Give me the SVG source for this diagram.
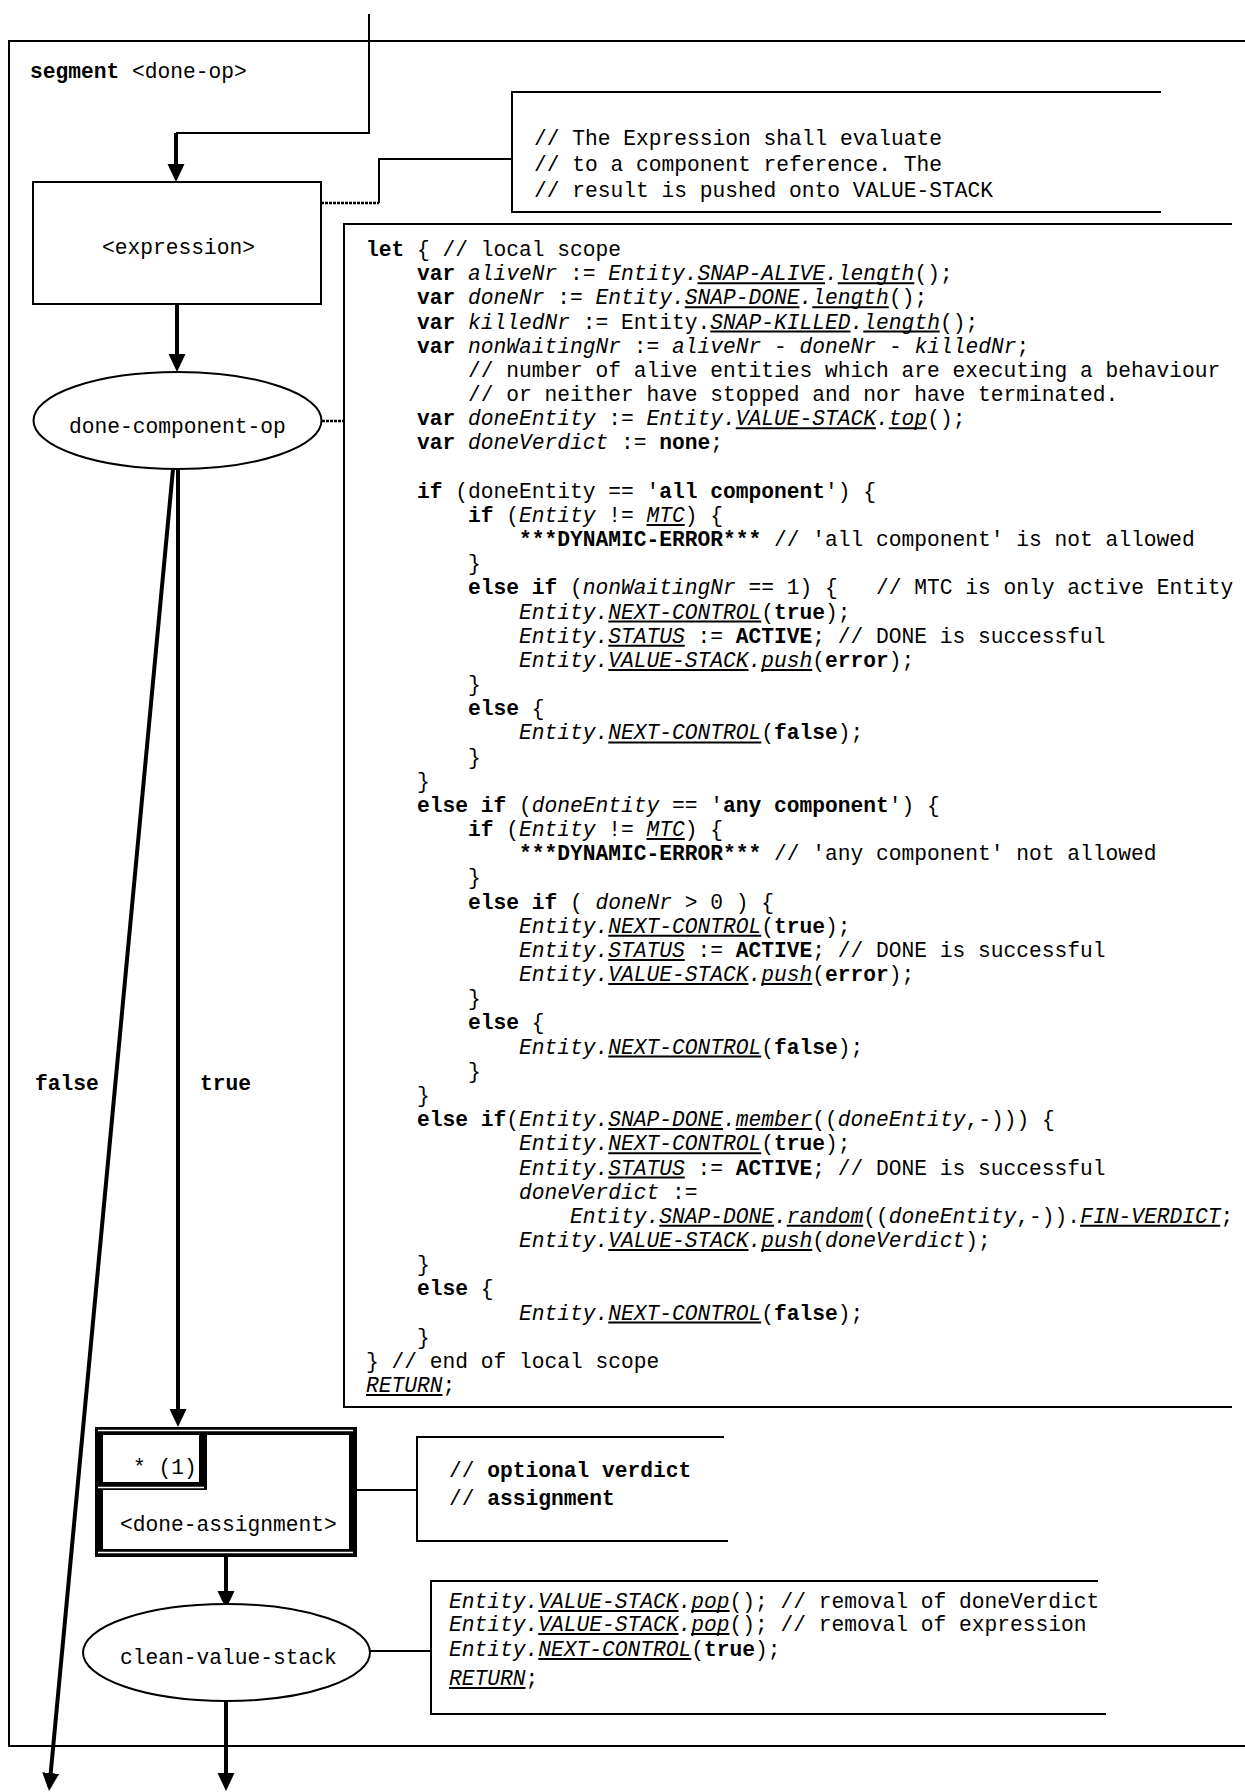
<svg xmlns="http://www.w3.org/2000/svg" width="1245" height="1792" viewBox="0 0 1245 1792">
<style>
.t{font-family:"Liberation Mono","Courier New",monospace;font-size:21.25px;fill:#000;white-space:pre}
.b{font-weight:bold}
.i{font-style:italic}
.ln{stroke:#000;stroke-width:2;fill:none}
.nd{stroke:#000;stroke-width:2;fill:#fff}
.ul{stroke:#000;stroke-width:2}
.ar{stroke:#000;stroke-width:4;fill:none;marker-end:url(#ah)}
.dot{stroke:#000;stroke-width:2.5;fill:none;stroke-dasharray:3 1}
</style>
<defs>
<marker id="ah" markerUnits="userSpaceOnUse" markerWidth="18" markerHeight="18" refX="14" refY="8.5" orient="auto">
<path d="M0,0 L18,8.5 L0,17 z" fill="#000"/>
</marker>
</defs>
<rect width="1245" height="1792" fill="#fff"/>

<g id="frame">
<path class="ln" d="M1245,41 H9 V1746 H1245"/>
<text class="t" x="30" y="78"><tspan class="b">segment</tspan> &lt;done-op&gt;</text>
</g>

<g id="connectors">
<path class="ln" d="M369,14 V133 H176"/>
<path class="ar" d="M176,133 V178"/>
<path class="ar" d="M177,304 V368"/>
<path class="ar" d="M178,469 V1423"/>
<path class="ar" d="M173,469 L49.4,1787"/>
<path class="ar" d="M226,1557 V1605"/>
<path class="ar" d="M226,1701 V1787"/>
<path class="dot" d="M321,203 H379"/>
<path class="ln" d="M379,203 V159 H512"/>
<path class="dot" d="M322,421 H344"/>
<path class="ln" d="M357,1490 H417"/>
<path class="ln" d="M370,1651 H431"/>
<text class="t b" x="35" y="1090">false</text>
<text class="t b" x="200" y="1090">true</text>
</g>

<g id="expression">
<rect class="nd" x="33" y="182" width="288" height="122"/>
<text class="t" x="102" y="254">&lt;expression&gt;</text>
</g>

<g id="done-component-op">
<ellipse class="nd" cx="177.5" cy="420.5" rx="144" ry="48.5"/>
<text class="t" x="69" y="433">done-component-op</text>
</g>

<g id="comment-expression">
<path class="ln" d="M1161,92 H512 V212 H1161"/>
<text class="t" x="534" y="145">// The Expression shall evaluate</text>
<text class="t" x="534" y="171">// to a component reference. The</text>
<text class="t" x="534" y="197">// result is pushed onto VALUE-STACK</text>
</g>

<g id="let-block">
<path class="ln" d="M1232,224 H344 V1407 H1232"/>
<text class="t" x="366" y="256"><tspan class="b">let</tspan> { // local scope</text>
<text class="t" x="417" y="280.2"><tspan class="b">var</tspan> <tspan class="i">aliveNr</tspan> := <tspan class="i">Entity.SNAP-ALIVE.length</tspan>();</text>
<text class="t" x="417" y="304.3"><tspan class="b">var</tspan> <tspan class="i">doneNr</tspan> := <tspan class="i">Entity.SNAP-DONE.length</tspan>();</text>
<text class="t" x="417" y="328.5"><tspan class="b">var</tspan> <tspan class="i">killedNr</tspan> := Entity.<tspan class="i">SNAP-KILLED.length</tspan>();</text>
<text class="t" x="417" y="352.7"><tspan class="b">var</tspan> <tspan class="i">nonWaitingNr</tspan> := <tspan class="i">aliveNr</tspan> - <tspan class="i">doneNr</tspan> - <tspan class="i">killedNr</tspan>;</text>
<text class="t" x="468" y="376.9">// number of alive entities which are executing a behaviour</text>
<text class="t" x="468" y="401">// or neither have stopped and nor have terminated.</text>
<text class="t" x="417" y="425.2"><tspan class="b">var</tspan> <tspan class="i">doneEntity</tspan> := <tspan class="i">Entity.VALUE-STACK.top</tspan>();</text>
<text class="t" x="417" y="449.4"><tspan class="b">var</tspan> <tspan class="i">doneVerdict</tspan> := <tspan class="b">none</tspan>;</text>
<text class="t" x="417" y="497.7"><tspan class="b">if</tspan> (doneEntity == '<tspan class="b">all component</tspan>') {</text>
<text class="t" x="468" y="521.9"><tspan class="b">if</tspan> (<tspan class="i">Entity</tspan> != <tspan class="i">MTC</tspan>) {</text>
<text class="t" x="519" y="546"><tspan class="b">***DYNAMIC-ERROR***</tspan> // 'all component' is not allowed</text>
<text class="t" x="468" y="570.2">}</text>
<text class="t" x="468" y="594.4"><tspan class="b">else if</tspan> (<tspan class="i">nonWaitingNr</tspan> == 1) {   // MTC is only active Entity</text>
<text class="t" x="519" y="618.6"><tspan class="i">Entity.NEXT-CONTROL</tspan>(<tspan class="b">true</tspan>);</text>
<text class="t" x="519" y="642.7"><tspan class="i">Entity.STATUS</tspan> := <tspan class="b">ACTIVE</tspan>; // DONE is successful</text>
<text class="t" x="519" y="666.9"><tspan class="i">Entity.VALUE-STACK.push</tspan>(<tspan class="b">error</tspan>);</text>
<text class="t" x="468" y="691.1">}</text>
<text class="t" x="468" y="715.2"><tspan class="b">else</tspan> {</text>
<text class="t" x="519" y="739.4"><tspan class="i">Entity.NEXT-CONTROL</tspan>(<tspan class="b">false</tspan>);</text>
<text class="t" x="468" y="763.6">}</text>
<text class="t" x="417" y="787.7">}</text>
<text class="t" x="417" y="811.9"><tspan class="b">else if</tspan> (<tspan class="i">doneEntity</tspan> == '<tspan class="b">any component</tspan>') {</text>
<text class="t" x="468" y="836.1"><tspan class="b">if</tspan> (<tspan class="i">Entity</tspan> != <tspan class="i">MTC</tspan>) {</text>
<text class="t" x="519" y="860.3"><tspan class="b">***DYNAMIC-ERROR***</tspan> // 'any component' not allowed</text>
<text class="t" x="468" y="884.4">}</text>
<text class="t" x="468" y="908.6"><tspan class="b">else if</tspan> ( <tspan class="i">doneNr</tspan> &gt; 0 ) {</text>
<text class="t" x="519" y="932.8"><tspan class="i">Entity.NEXT-CONTROL</tspan>(<tspan class="b">true</tspan>);</text>
<text class="t" x="519" y="956.9"><tspan class="i">Entity.STATUS</tspan> := <tspan class="b">ACTIVE</tspan>; // DONE is successful</text>
<text class="t" x="519" y="981.1"><tspan class="i">Entity.VALUE-STACK.push</tspan>(<tspan class="b">error</tspan>);</text>
<text class="t" x="468" y="1005.3">}</text>
<text class="t" x="468" y="1029.4"><tspan class="b">else</tspan> {</text>
<text class="t" x="519" y="1053.6"><tspan class="i">Entity.NEXT-CONTROL</tspan>(<tspan class="b">false</tspan>);</text>
<text class="t" x="468" y="1077.8">}</text>
<text class="t" x="417" y="1101.9">}</text>
<text class="t" x="417" y="1126.1"><tspan class="b">else if</tspan>(<tspan class="i">Entity.SNAP-DONE.member</tspan>((<tspan class="i">doneEntity</tspan>,-))) {</text>
<text class="t" x="519" y="1150.3"><tspan class="i">Entity.NEXT-CONTROL</tspan>(<tspan class="b">true</tspan>);</text>
<text class="t" x="519" y="1174.5"><tspan class="i">Entity.STATUS</tspan> := <tspan class="b">ACTIVE</tspan>; // DONE is successful</text>
<text class="t" x="519" y="1198.6"><tspan class="i">doneVerdict</tspan> :=</text>
<text class="t" x="570" y="1222.8"><tspan class="i">Entity.SNAP-DONE.random</tspan>((<tspan class="i">doneEntity</tspan>,-)).<tspan class="i">FIN-VERDICT</tspan>;</text>
<text class="t" x="519" y="1247"><tspan class="i">Entity.VALUE-STACK.push</tspan>(<tspan class="i">doneVerdict</tspan>);</text>
<text class="t" x="417" y="1271.1">}</text>
<text class="t" x="417" y="1295.3"><tspan class="b">else</tspan> {</text>
<text class="t" x="519" y="1319.5"><tspan class="i">Entity.NEXT-CONTROL</tspan>(<tspan class="b">false</tspan>);</text>
<text class="t" x="417" y="1343.6">}</text>
<text class="t" x="366" y="1367.8">} // end of local scope</text>
<text class="t" x="366" y="1392"><tspan class="i">RETURN</tspan>;</text>
<g class="ul">
<line x1="697.5" y1="283.2" x2="825" y2="283.2"/>
<line x1="837.75" y1="283.2" x2="914.25" y2="283.2"/>
<line x1="684.75" y1="307.3" x2="799.5" y2="307.3"/>
<line x1="812.25" y1="307.3" x2="888.75" y2="307.3"/>
<line x1="710.25" y1="331.5" x2="850.5" y2="331.5"/>
<line x1="863.25" y1="331.5" x2="939.75" y2="331.5"/>
<line x1="735.75" y1="428.2" x2="876" y2="428.2"/>
<line x1="888.75" y1="428.2" x2="927" y2="428.2"/>
<line x1="646.5" y1="524.9" x2="684.75" y2="524.9"/>
<line x1="608.25" y1="621.6" x2="761.25" y2="621.6"/>
<line x1="608.25" y1="645.7" x2="684.75" y2="645.7"/>
<line x1="608.25" y1="669.9" x2="748.5" y2="669.9"/>
<line x1="761.25" y1="669.9" x2="812.25" y2="669.9"/>
<line x1="608.25" y1="742.4" x2="761.25" y2="742.4"/>
<line x1="646.5" y1="839.1" x2="684.75" y2="839.1"/>
<line x1="608.25" y1="935.8" x2="761.25" y2="935.8"/>
<line x1="608.25" y1="959.9" x2="684.75" y2="959.9"/>
<line x1="608.25" y1="984.1" x2="748.5" y2="984.1"/>
<line x1="761.25" y1="984.1" x2="812.25" y2="984.1"/>
<line x1="608.25" y1="1056.6" x2="761.25" y2="1056.6"/>
<line x1="608.25" y1="1129.1" x2="723" y2="1129.1"/>
<line x1="735.75" y1="1129.1" x2="812.25" y2="1129.1"/>
<line x1="608.25" y1="1153.3" x2="761.25" y2="1153.3"/>
<line x1="608.25" y1="1177.5" x2="684.75" y2="1177.5"/>
<line x1="659.25" y1="1225.8" x2="774" y2="1225.8"/>
<line x1="786.75" y1="1225.8" x2="863.25" y2="1225.8"/>
<line x1="1080" y1="1225.8" x2="1220.25" y2="1225.8"/>
<line x1="608.25" y1="1250" x2="748.5" y2="1250"/>
<line x1="761.25" y1="1250" x2="812.25" y2="1250"/>
<line x1="608.25" y1="1322.5" x2="761.25" y2="1322.5"/>
<line x1="366" y1="1395" x2="442.5" y2="1395"/>
</g>
</g>

<g id="done-assignment">
<rect x="99" y="1431" width="254" height="122" fill="#fff" stroke="#000" stroke-width="8"/>
<rect x="99" y="1431" width="104" height="55" fill="none" stroke="#000" stroke-width="8"/>
<line x1="98" y1="1430.5" x2="353" y2="1430.5" stroke="#fff" stroke-width="1.5"/>
<line x1="98" y1="1552.5" x2="353" y2="1552.5" stroke="#fff" stroke-width="1.5"/>
<line x1="98" y1="1487.5" x2="204" y2="1487.5" stroke="#fff" stroke-width="1.5"/>
<text class="t" x="133" y="1474">* (1)</text>
<text class="t" x="120" y="1531">&lt;done-assignment&gt;</text>
</g>

<g id="comment-assignment">
<path class="ln" d="M724,1437 H417 V1541 H728"/>
<text class="t" x="449" y="1477">// <tspan class="b">optional verdict</tspan></text>
<text class="t" x="449" y="1505">// <tspan class="b">assignment</tspan></text>
</g>

<g id="clean-value-stack">
<ellipse class="nd" cx="226.5" cy="1652.5" rx="143.5" ry="48.5"/>
<text class="t" x="120" y="1664">clean-value-stack</text>
</g>

<g id="comment-clean">
<path class="ln" d="M1098,1581 H431 V1714 H1106"/>
<text class="t" x="449" y="1608"><tspan class="i">Entity.VALUE-STACK.pop</tspan>(); // removal of doneVerdict</text>
<text class="t" x="449" y="1631"><tspan class="i">Entity.VALUE-STACK.pop</tspan>(); // removal of expression</text>
<text class="t" x="449" y="1656"><tspan class="i">Entity.NEXT-CONTROL</tspan>(<tspan class="b">true</tspan>);</text>
<text class="t" x="449" y="1685"><tspan class="i">RETURN</tspan>;</text>
<g class="ul">
<line x1="538.25" y1="1611" x2="678.5" y2="1611"/>
<line x1="691.25" y1="1611" x2="729.5" y2="1611"/>
<line x1="538.25" y1="1634" x2="678.5" y2="1634"/>
<line x1="691.25" y1="1634" x2="729.5" y2="1634"/>
<line x1="538.25" y1="1659" x2="691.25" y2="1659"/>
<line x1="449" y1="1688" x2="525.5" y2="1688"/>
</g>
</g>
</svg>
